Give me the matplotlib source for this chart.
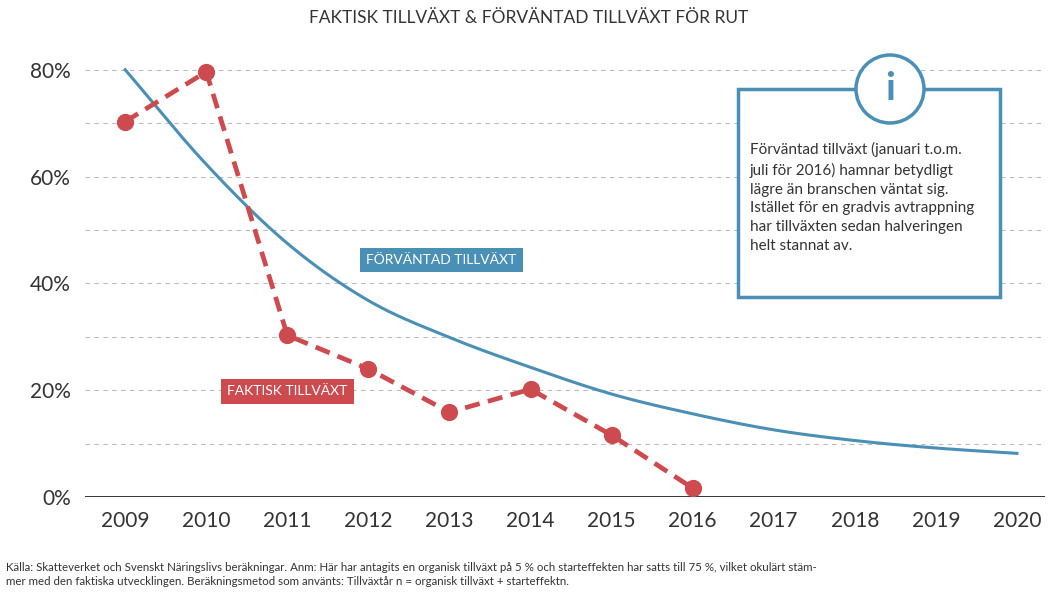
import numpy as np
import matplotlib.pyplot as plt
from matplotlib.patches import Circle, Rectangle

years = [2009, 2010, 2011, 2012, 2013, 2014, 2015, 2016, 2017, 2018, 2019, 2020]
expected = [80, 62.3, 47.5, 36.8, 29.9, 24.3, 19.3, 15.6, 12.6, 10.6, 9.2, 8.2]
actual_years = [2009, 2010, 2011, 2012, 2013, 2014, 2015, 2016]
actual = [70.3, 79.6, 30.3, 24.0, 15.9, 20.2, 11.6, 1.7]
yticks = [0, 20, 40, 60, 80]

BLUE = "#4a8fb5"
RED = "#cd4a4f"
FONT = "Lato"


def smooth(x, y, n=20):
    # Catmull-Rom drawing of the line through the read points
    x = np.asarray(x, float); y = np.asarray(y, float)
    px = np.concatenate([[2 * x[0] - x[1]], x, [2 * x[-1] - x[-2]]])
    py = np.concatenate([[2 * y[0] - y[1]], y, [2 * y[-1] - y[-2]]])
    xs, ys = [], []
    t = np.linspace(0, 1, n, endpoint=False)
    for i in range(1, len(px) - 2):
        for p, out in ((px, xs), (py, ys)):
            p0, p1, p2, p3 = p[i - 1:i + 3]
            out.extend(0.5 * (2 * p1 + (-p0 + p2) * t + (2 * p0 - 5 * p1 + 4 * p2 - p3) * t ** 2
                              + (-p0 + 3 * p1 - 3 * p2 + p3) * t ** 3))
    xs.append(x[-1]); ys.append(y[-1])
    return xs, ys


fig = plt.figure(figsize=(10.58, 5.94), dpi=100)
ax = fig.add_axes([0.08, 0.163, 0.908, 0.761])
ax.set_xlim(2008.5, 2020.35)
ax.set_ylim(0, 84.6)

for v in range(10, 85, 10):
    ax.axhline(v, color="#bbbbbb", lw=0.8, ls=(0, (4, 4)), zorder=0)
ax.axhline(0, color="#222222", lw=2, zorder=1)

sx, sy = smooth(years, expected)
ax.plot(sx, sy, color=BLUE, lw=2.2, zorder=3)
ax.plot(actual_years, actual, color=RED, lw=3.4, ls=(0, (3.2, 1.8)), zorder=4)
ax.scatter(actual_years, actual, s=130, color=RED, zorder=5)

ax.set_xticks(years)
ax.set_xticklabels([str(y) for y in years], fontsize=15, color="#333333", family=FONT)
ax.set_yticks(yticks)
ax.set_yticklabels([f"{v}%" for v in yticks], fontsize=15, color="#333333", family=FONT)
ax.tick_params(length=0, pad=10)
for s in ax.spines.values():
    s.set_visible(False)

ax.text(2012.9, 44.4, "FÖRVÄNTAD TILLVÄXT", color="white", fontsize=10, family=FONT,
        ha="center", va="center", bbox=dict(boxstyle="square,pad=0.45", fc=BLUE, ec="none"), zorder=6)
ax.text(2011.0, 19.8, "FAKTISK TILLVÄXT", color="white", fontsize=10, family=FONT,
        ha="center", va="center", bbox=dict(boxstyle="square,pad=0.45", fc=RED, ec="none"), zorder=6)

# info box
fig.patches.append(Rectangle((738/1058, 1 - 297/594), (1000 - 738)/1058, (297 - 89)/594,
                             transform=fig.transFigure, fc="white", ec=BLUE, lw=2.5))
fig.patches.append(Circle((8.90, 5.94 - 0.89), 0.34, transform=fig.dpi_scale_trans,
                          fc="white", ec=BLUE, lw=2.5))
fig.text(890/1058, 1 - 89/594, "i", fontsize=28, color=BLUE, ha="center", va="center", family=FONT, weight="bold")
fig.text(750/1058, 1 - 142/594,
         "Förväntad tillväxt (januari t.o.m.\njuli för 2016) hamnar betydligt\nlägre än branschen väntat sig.\n"
         "Istället för en gradvis avtrappning\nhar tillväxten sedan halveringen\nhelt stannat av.",
         fontsize=11, color="#333333", family=FONT, va="top", linespacing=1.45)

fig.text(0.5, 1 - 18/594, "FAKTISK TILLVÄXT & FÖRVÄNTAD TILLVÄXT FÖR RUT",
         fontsize=12.5, color="#333333", family=FONT, ha="center", va="center")
fig.text(6/1058, 1 - 562/594,
         "Källa: Skatteverket och Svenskt Näringslivs beräkningar. Anm: Här har antagits en organisk tillväxt på 5 % och starteffekten har satts till 75 %, vilket okulärt stäm-\n"
         "mer med den faktiska utvecklingen. Beräkningsmetod som använts: Tillväxtår n = organisk tillväxt + starteffektn.",
         fontsize=8.3, color="#333333", family=FONT, va="top", linespacing=1.3)

fig.savefig("out.png", dpi=100, facecolor="white")
